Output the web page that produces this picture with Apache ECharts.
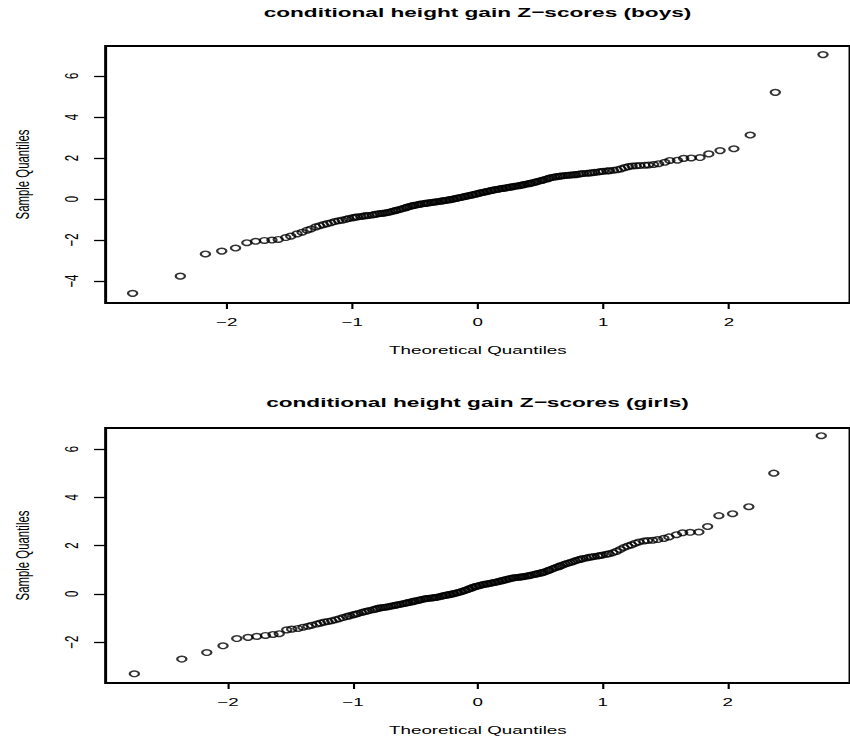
<!DOCTYPE html>
<html><head><meta charset="utf-8">
<script src="https://cdn.jsdelivr.net/npm/echarts@6/dist/echarts.min.js"></script>
<style>
html,body{margin:0;padding:0;background:#fff;overflow:hidden;}
#chart{width:515px;height:737px;transform:scaleX(1.6505);transform-origin:0 0;}
</style></head><body><div id="chart"></div>
<script>
// Theoretical normal quantiles (x axis), shared by both panels
const theoreticalQuantiles = [
-2.75,-2.37,-2.17,-2.04,-1.93,-1.84,-1.77,-1.70,-1.64,-1.59,
-1.53,-1.49,-1.44,-1.40,-1.36,-1.33,-1.29,-1.26,-1.23,-1.20,
-1.17,-1.14,-1.11,-1.08,-1.05,-1.03,-1.00,-0.98,-0.96,-0.93,
-0.91,-0.89,-0.87,-0.84,-0.82,-0.80,-0.78,-0.76,-0.74,-0.72,
-0.70,-0.68,-0.66,-0.65,-0.63,-0.61,-0.59,-0.57,-0.56,-0.54,
-0.52,-0.51,-0.49,-0.47,-0.46,-0.44,-0.42,-0.41,-0.39,-0.37,
-0.36,-0.34,-0.33,-0.31,-0.29,-0.28,-0.26,-0.25,-0.23,-0.22,
-0.20,-0.19,-0.17,-0.16,-0.14,-0.13,-0.11,-0.10,-0.08,-0.07,
-0.05,-0.04,-0.02,-0.01,0.01,0.02,0.04,0.05,
0.07,0.08,0.10,0.11,0.13,0.14,0.16,0.17,0.19,0.20,
0.22,0.23,0.25,0.26,0.28,0.29,0.31,0.33,0.34,0.36,
0.37,0.39,0.41,0.42,0.44,0.46,0.47,0.49,0.51,0.52,
0.54,0.56,0.57,0.59,0.61,0.63,0.65,0.66,0.68,0.70,
0.72,0.74,0.76,0.78,0.80,0.82,0.84,0.87,0.89,0.91,
0.93,0.96,0.98,1.00,1.03,1.05,1.08,1.11,1.14,1.17,
1.20,1.23,1.26,1.29,1.33,1.36,1.40,1.44,1.49,1.53,
1.59,1.64,1.70,1.77,1.84,1.93,2.04,2.17,2.37,2.75
];
// Sample quantiles, boys (y axis of top panel)
const boysSampleQuantiles = [
-4.60,-3.76,-2.68,-2.54,-2.39,-2.13,-2.06,-2.02,-2.00,-1.97,
-1.88,-1.81,-1.70,-1.62,-1.52,-1.46,-1.36,-1.30,-1.25,-1.20,
-1.16,-1.10,-1.06,-1.03,-0.99,-0.95,-0.92,-0.89,-0.87,-0.85,
-0.83,-0.81,-0.80,-0.78,-0.75,-0.73,-0.71,-0.70,-0.68,-0.66,
-0.63,-0.60,-0.57,-0.55,-0.52,-0.49,-0.45,-0.42,-0.39,-0.36,
-0.33,-0.31,-0.29,-0.27,-0.25,-0.23,-0.22,-0.20,-0.19,-0.17,
-0.16,-0.15,-0.13,-0.12,-0.10,-0.09,-0.07,-0.06,-0.04,-0.03,
-0.01,0.01,0.03,0.05,0.07,0.09,0.11,0.13,0.15,0.17,
0.19,0.21,0.23,0.25,0.28,0.30,0.32,0.34,0.36,0.38,
0.40,0.42,0.44,0.46,0.48,0.49,0.51,0.52,0.54,0.55,
0.57,0.58,0.60,0.62,0.63,0.65,0.67,0.69,0.71,0.73,
0.75,0.77,0.80,0.82,0.85,0.88,0.90,0.93,0.96,0.99,
1.02,1.05,1.07,1.09,1.11,1.12,1.13,1.15,1.16,1.17,
1.18,1.19,1.21,1.23,1.24,1.26,1.27,1.28,1.30,1.32,
1.34,1.35,1.37,1.38,1.40,1.43,1.47,1.53,1.58,1.61,
1.62,1.63,1.65,1.66,1.68,1.72,1.79,1.88,1.89,1.98,
2.00,2.02,2.20,2.36,2.45,3.12,5.20,7.04
];
// Sample quantiles, girls (y axis of bottom panel)
const girlsSampleQuantiles = [
-3.31,-2.70,-2.43,-2.15,-1.85,-1.80,-1.76,-1.72,-1.68,-1.65,
-1.49,-1.46,-1.43,-1.38,-1.34,-1.30,-1.25,-1.21,-1.17,-1.14,
-1.11,-1.07,-1.03,-0.98,-0.94,-0.91,-0.87,-0.84,-0.81,-0.77,
-0.74,-0.72,-0.69,-0.66,-0.63,-0.60,-0.58,-0.56,-0.55,-0.53,
-0.51,-0.49,-0.47,-0.46,-0.44,-0.42,-0.40,-0.38,-0.36,-0.34,
-0.32,-0.30,-0.28,-0.26,-0.24,-0.22,-0.20,-0.19,-0.18,-0.17,
-0.16,-0.15,-0.14,-0.12,-0.10,-0.08,-0.06,-0.05,-0.03,-0.02,
0.00,0.02,0.04,0.06,0.08,0.10,0.13,0.15,0.18,0.21,
0.24,0.27,0.30,0.32,0.34,0.36,0.38,0.40,0.41,0.42,
0.44,0.45,0.47,0.48,0.50,0.52,0.54,0.56,0.58,0.60,
0.62,0.64,0.66,0.67,0.68,0.69,0.70,0.71,0.72,0.74,
0.75,0.77,0.79,0.81,0.83,0.85,0.87,0.89,0.92,0.96,
0.98,1.02,1.06,1.10,1.13,1.16,1.20,1.24,1.27,1.30,
1.33,1.37,1.40,1.43,1.46,1.49,1.52,1.53,1.55,1.57,
1.59,1.61,1.64,1.66,1.70,1.76,1.84,1.92,1.98,2.03,
2.10,2.15,2.19,2.21,2.22,2.25,2.30,2.36,2.45,2.53,
2.55,2.56,2.79,3.24,3.32,3.61,5.00,6.55
];
const xTicks = [-2, -1, 0, 1, 2];
const boysYTicks = [-4, -2, 0, 2, 4, 6];
const girlsYTicks = [-2, 0, 2, 4, 6];
const panelTitles = ['conditional height gain Z\u2212scores (boys)', 'conditional height gain Z\u2212scores (girls)'];
const xAxisTitle = 'Theoretical Quantiles';
const yAxisTitle = 'Sample Quantiles';

const FONT = "'Liberation Sans', Arial, Helvetica, sans-serif";
const minus = v => String(v).replace('-', '\u2212');

function xAxisCfg(gridIndex, lim) {
  return {
    type: 'value', gridIndex, min: -lim, max: lim,
    name: xAxisTitle, nameLocation: 'middle', nameGap: 41,
    nameTextStyle: { fontSize: 11.4, color: '#000', fontFamily: FONT },
    axisLine: { show: false, onZero: false },
    splitLine: { show: false },
    axisTick: { show: true, length: 6, customValues: xTicks, lineStyle: { color: '#000', width: 1.3 } },
    axisLabel: { customValues: xTicks, margin: 13, fontSize: 11.4, color: '#000', fontFamily: FONT, formatter: minus }
  };
}
function yAxisCfg(gridIndex, min, max, ticks) {
  return {
    type: 'value', gridIndex, min, max,
    name: yAxisTitle, nameLocation: 'middle', nameGap: 45, nameRotate: 90,
    nameTextStyle: { fontSize: 11.4, color: '#000', fontFamily: FONT },
    axisLine: { show: false, onZero: false },
    splitLine: { show: false },
    axisTick: { show: true, length: 7, customValues: ticks, lineStyle: { color: '#000', width: 1.3 } },
    axisLabel: { customValues: ticks, rotate: 90, margin: 15, fontSize: 11.4, color: '#000', fontFamily: FONT, formatter: minus }
  };
}
function titleCfg(text, top) {
  return { text, left: 289.3, top, textAlign: 'center', padding: 0,
    textStyle: { fontSize: 13.7, fontWeight: 'bold', color: '#000', fontFamily: FONT } };
}
const pointStyle = { color: 'rgba(0,0,0,0)', borderColor: '#000', borderWidth: 1.4 };

const chart = echarts.init(document.getElementById('chart'), null, { renderer: 'svg' });
chart.setOption({
  animation: false,
  backgroundColor: '#fff',
  title: [titleCfg(panelTitles[0], 5), titleCfg(panelTitles[1], 395)],
  grid: [
    { left: 59.4, top: 46, width: 460, height: 257, show: true, borderColor: '#000', borderWidth: 1.8, containLabel: false },
    { left: 59.6, top: 428, width: 458, height: 255, show: true, borderColor: '#000', borderWidth: 1.8, containLabel: false }
  ],
  xAxis: [xAxisCfg(0, 2.965), xAxisCfg(1, 2.98)],
  yAxis: [yAxisCfg(0, -5.07, 7.46, boysYTicks), yAxisCfg(1, -3.69, 6.87, girlsYTicks)],
  series: [
    { type: 'scatter', xAxisIndex: 0, yAxisIndex: 0, symbol: 'circle', symbolSize: 5.6, silent: true,
      itemStyle: pointStyle, data: theoreticalQuantiles.map((q, i) => [q, boysSampleQuantiles[i]]) },
    { type: 'scatter', xAxisIndex: 1, yAxisIndex: 1, symbol: 'circle', symbolSize: 5.6, silent: true,
      itemStyle: pointStyle, data: theoreticalQuantiles.map((q, i) => [q, girlsSampleQuantiles[i]]) }
  ]
});
</script></body></html>
